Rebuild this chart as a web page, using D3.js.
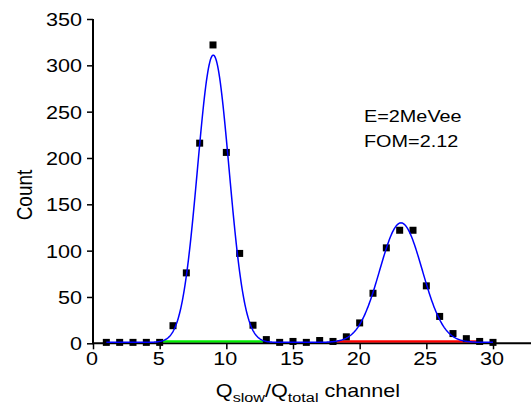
<!DOCTYPE html>
<html>
<head>
<meta charset="utf-8">
<script src="https://cdn.jsdelivr.net/npm/d3@7"></script>
<style>
    body { margin: 0; background: #fff; }
    text { font-family: "Liberation Sans", Arial, sans-serif; fill: #000; }
</style>
</head>
<body>
<svg id="chart"></svg>
<script>
// Measured counts per channel
const channels = [1, 2, 3, 4, 5, 6, 7, 8, 9, 10, 11, 12, 13, 14, 15, 16, 17, 18, 19, 20, 21, 22, 23, 24, 25, 26, 27, 28, 29, 30];
const counts = [1, 1, 1, 1, 1, 19, 76, 216, 322, 206, 97, 19.5, 4, 1, 2, 1, 3, 2, 7, 22, 54, 103, 122, 122, 62, 29, 10.5, 5, 2, 1];

// Double gaussian fit parameters (amplitude, centre, sigma), baseline offset
const fitAmp = [310, 129];
const fitCenter = [9.02, 23.1];
const fitSigma = [1.18, 1.59];
const fitOffset = 1;
const fitRange = [1, 30];

// Baseline segments of each peak
const gammaBase = [5.05, 13.05];
const neutronBase = [18.3, 28.8];

const xTicks = [0, 5, 10, 15, 20, 25, 30];
const yTicks = [0, 50, 100, 150, 200, 250, 300, 350];

const width = 531;
const height = 407;
const sx = 1.2; // the text in the picture is a little wider than tall
const svg = d3.select("#chart").attr("width", width).attr("height", height);

const x = d3.scaleLinear().domain([0, 30]).range([93, 493]);
const y = d3.scaleLinear().domain([0, 350]).range([343.3, 19]);

// Axes
const xAxis = svg.append("g")
    .attr("transform", `translate(0,${y(0)})`)
    .call(d3.axisBottom(x).tickValues(xTicks).tickSize(6).tickSizeOuter(0).tickPadding(3));
xAxis.select(".domain").remove();
xAxis.selectAll("line").attr("stroke", "#000").attr("stroke-width", 1.5);
xAxis.selectAll("text").attr("font-size", 18).attr("x", -1.5 / sx).attr("transform", `scale(${sx},1)`);

const yAxis = svg.append("g")
    .attr("transform", `translate(${x(0)},0)`)
    .call(d3.axisLeft(y).tickValues(yTicks).tickSize(6).tickSizeOuter(0));
yAxis.select(".domain").remove();
yAxis.selectAll("line").attr("stroke", "#000").attr("stroke-width", 1.5);
yAxis.selectAll("text")
    .attr("font-size", 18)
    .attr("dy", "0.36em")
    .attr("x", -11 / sx)
    .attr("transform", `scale(${sx},1)`);

// Axis lines
svg.append("line")
    .attr("x1", x(0)).attr("x2", width)
    .attr("y1", y(0)).attr("y2", y(0))
    .attr("stroke", "#000").attr("stroke-width", 2);
svg.append("line")
    .attr("x1", x(0)).attr("x2", x(0))
    .attr("y1", y(350)).attr("y2", y(0) + 1)
    .attr("stroke", "#000").attr("stroke-width", 2);

// Peak baselines
svg.append("line")
    .attr("x1", x(gammaBase[0])).attr("x2", x(gammaBase[1]))
    .attr("y1", y(0) - 2).attr("y2", y(0) - 2)
    .attr("stroke", "#00ee00").attr("stroke-width", 2.2);
svg.append("line")
    .attr("x1", x(neutronBase[0])).attr("x2", x(neutronBase[1]))
    .attr("y1", y(0) - 2).attr("y2", y(0) - 2)
    .attr("stroke", "#ff0000").attr("stroke-width", 2.2);

// Data squares
svg.append("g").selectAll("rect")
    .data(channels)
    .join("rect")
    .attr("x", (d) => x(d) - 3.5)
    .attr("y", (d, i) => y(counts[i]) - 3.5)
    .attr("width", 7)
    .attr("height", 7)
    .attr("fill", "#000");

// Fit curve
const fit = (v) => fitOffset + fitAmp.reduce((s, a, k) =>
    s + a * Math.exp(-((v - fitCenter[k]) ** 2) / (2 * fitSigma[k] ** 2)), 0);
const fitX = d3.range(fitRange[0], fitRange[1] + 0.001, 0.05);
svg.append("path")
    .datum(fitX)
    .attr("fill", "none")
    .attr("stroke", "#0000ff")
    .attr("stroke-width", 1.5)
    .attr("d", d3.line().x((d) => x(d)).y((d) => y(fit(d))));

// Axis titles
svg.append("text")
    .attr("transform", `translate(32,195) scale(${sx},1) rotate(-90)`)
    .attr("text-anchor", "middle")
    .attr("font-size", 19)
    .text("Count");

const xTitle = svg.append("text")
    .attr("transform", `translate(308,397) scale(${sx},1)`)
    .attr("text-anchor", "middle")
    .attr("font-size", 18);
xTitle.append("tspan").text("Q");
xTitle.append("tspan").attr("font-size", 13.5).attr("dy", 5).text("slow");
xTitle.append("tspan").attr("dy", -5).text("/Q");
xTitle.append("tspan").attr("font-size", 13.5).attr("dy", 5).text("total");
xTitle.append("tspan").attr("dy", -5).text(" channel");

// Annotation
const note = svg.append("g").attr("transform", `translate(364,0) scale(1.24,1)`);
note.append("text").attr("y", 122).attr("font-size", 16).text("E=2MeVee");
note.append("text").attr("y", 147).attr("font-size", 16).text("FOM=2.12");
</script>
</body>
</html>
